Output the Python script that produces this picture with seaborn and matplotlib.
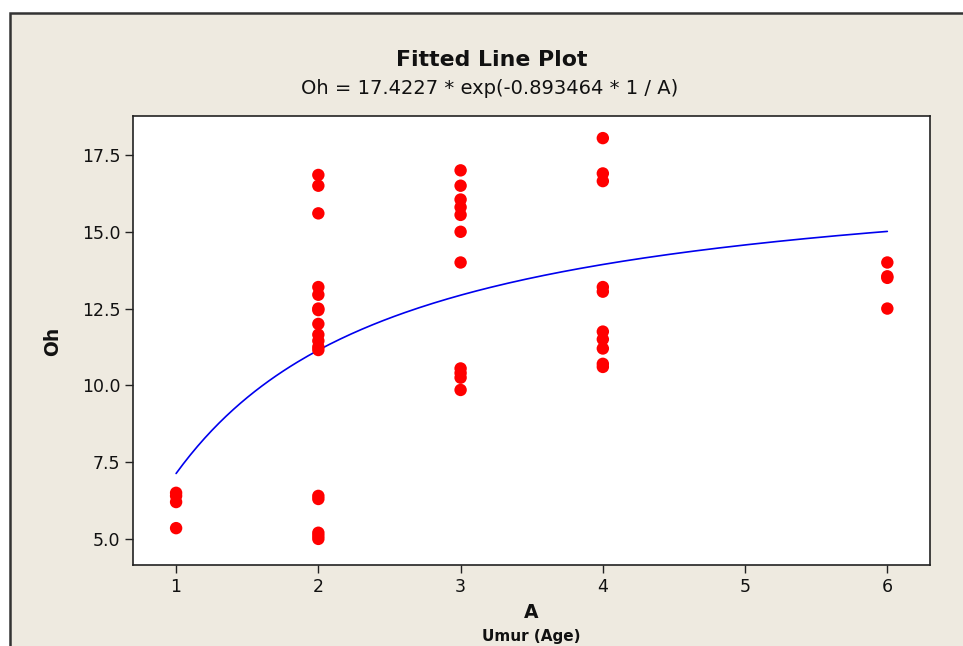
import numpy as np
import pandas as pd
import matplotlib
matplotlib.use("Agg")
import matplotlib.pyplot as plt
import seaborn as sns
from matplotlib.patches import Rectangle

# ---- data ----
age_1 = [6.5, 6.4, 6.2, 5.35]
age_2 = [16.85, 16.5, 15.6, 13.2, 12.95, 12.5, 12.45, 12.0, 11.65, 11.45, 11.25, 11.15,
         6.4, 6.3, 5.2, 5.1, 5.0]
age_3 = [17.0, 16.5, 16.05, 15.8, 15.55, 15.0, 14.0, 10.55, 10.4, 10.25, 9.85]
age_4 = [18.05, 16.9, 16.65, 13.2, 13.05, 11.75, 11.5, 11.2, 10.7, 10.6]
age_6 = [14.0, 13.55, 13.5, 12.5]

# fitted model coefficients shown in the title
coef_a = 17.4227
coef_b = -0.893464

title_main = "Fitted Line Plot"
title_sub = "Oh = 17.4227 * exp(-0.893464 * 1 / A)"
xticks = [1, 2, 3, 4, 5, 6]
yticks = [5.0, 7.5, 10.0, 12.5, 15.0, 17.5]

# ---- build tables ----
rows = []
for a, vals in [(1, age_1), (2, age_2), (3, age_3), (4, age_4), (6, age_6)]:
    for v in vals:
        rows.append((a, v))
df = pd.DataFrame(rows, columns=["A", "Oh"])

fit_x = np.linspace(1, 6, 200)
fit = pd.DataFrame({"A": fit_x, "Oh": coef_a * np.exp(coef_b * 1 / fit_x)})

sns.set_theme(style="white")
plt.rcParams['font.family'] = ['DejaVu Sans']

W, H = 963, 646
fig = plt.figure(figsize=(W / 100, H / 100), dpi=100)
fig.patch.set_facecolor("white")
bg = "#EEEAE0"
fig.patches.append(Rectangle((10 / W, -0.1), 1.2, 1 - 13 / H + 0.1, transform=fig.transFigure,
                             facecolor=bg, edgecolor="#333333", linewidth=1.8, zorder=-10))

ax = fig.add_axes([133 / W, 1 - 565 / H, (930 - 133) / W, (565 - 116) / H])
ax.set_facecolor("white")

sns.lineplot(data=fit, x="A", y="Oh", ax=ax, color="#0000EE", linewidth=1.2, zorder=2)
sns.scatterplot(data=df, x="A", y="Oh", ax=ax, color="#FF0000", s=80, edgecolor="none",
                linewidth=0, zorder=3)

ax.set_xlim(0.697, 6.30)
ax.set_ylim(4.15, 18.77)
ax.set_xticks(xticks)
ax.set_xticklabels([str(t) for t in xticks])
ax.set_yticks(yticks)
ax.set_yticklabels([f"{t:.1f}" for t in yticks])
ax.tick_params(axis="both", direction="out", length=6, width=1, color="#222222",
               labelsize=12.5, labelcolor="#111111", pad=3, bottom=True, left=True)
for s in ax.spines.values():
    s.set_color("#222222")
    s.set_linewidth(1.2)

ax.set_xlabel("")
ax.set_ylabel("")
fig.text(492 / W, 1 - 60 / H, title_main, ha="center", va="center", fontsize=15.8,
         fontweight="bold", color="#111111")
fig.text(490 / W, 1 - 89 / H, title_sub, ha="center", va="center", fontsize=14,
         color="#111111")
fig.text(531 / W, 1 - 612 / H, "A", ha="center", va="center", fontsize=13.5,
         fontweight="bold", color="#111111")
fig.text(531 / W, 1 - 637 / H, "Umur (Age)", ha="center", va="center", fontsize=11,
         fontweight="bold", color="#111111")
fig.text(53 / W, 1 - 341 / H, "Oh", ha="center", va="center", fontsize=13.5,
         fontweight="bold", rotation=90, color="#111111")

fig.savefig("out.png", dpi=100, facecolor=fig.get_facecolor())
